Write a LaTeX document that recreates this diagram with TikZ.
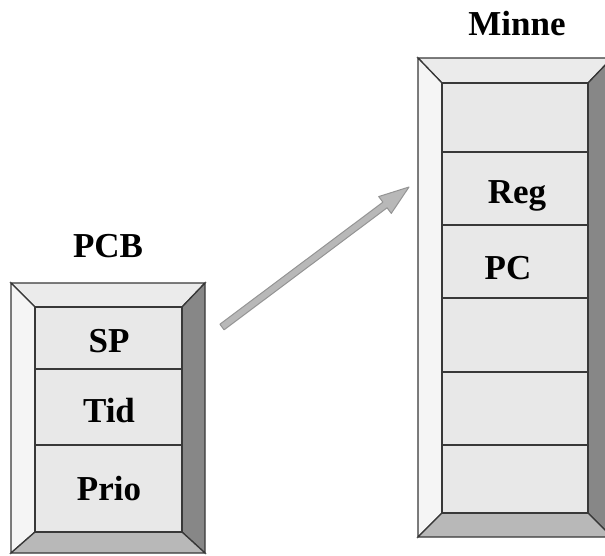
\documentclass[tikz,border=0pt]{standalone}
\usepackage{fontspec}
\setmainfont{Liberation Serif}
\usetikzlibrary{calc}
% Beveled frame: outer x1 y1 x2 y2, then inner x1 y1 x2 y2
\newcommand{\drawbevelframe}[8]{%
  \path[bevtop]   (#1,#2) -- (#3,#2) -- (#7,#6) -- (#5,#6) -- cycle;
  \path[bevleft]  (#1,#2) -- (#5,#6) -- (#5,#8) -- (#1,#4) -- cycle;
  \path[bevright] (#3,#2) -- (#3,#4) -- (#7,#8) -- (#7,#6) -- cycle;
  \path[bevbot]   (#1,#4) -- (#5,#8) -- (#7,#8) -- (#3,#4) -- cycle;
  \path[cell]     (#5,#6) rectangle (#7,#8);
}
\begin{document}
\begin{tikzpicture}[x=1pt,y=-1pt,
  edge/.style={draw=black!78, line width=1.3pt, line join=miter},
  bevtop/.style={edge, fill=black!8},
  bevleft/.style={edge, fill=black!4},
  bevright/.style={edge, fill=black!47},
  bevbot/.style={edge, fill=black!28},
  cell/.style={edge, fill=black!9},
  lbl/.style={anchor=base, inner sep=0pt, font=\bfseries\fontsize{35}{40}\selectfont},
  arrowbody/.style={draw=black!42, fill=black!28, line width=1pt, line join=round}
]
\useasboundingbox (0,0) rectangle (605,555);

% PCB frame with three fields
\drawbevelframe{11}{283}{205}{553}{35}{307}{182}{532}
\foreach \yy in {369,445} \draw[edge] (35,\yy) -- (182,\yy);

% Memory frame with six fields
\drawbevelframe{418}{58}{612}{537}{442}{83}{588}{513}
\foreach \yy in {152,225,298,372,445} \draw[edge] (442,\yy) -- (588,\yy);

% Titles and field labels
\node[lbl] (pcbtitle)   at (108,257) {PCB};
\node[lbl] (minnetitle) at (517,35)  {Minne};
\node[lbl] (sp)   at (109,352) {SP};
\node[lbl] (tid)  at (109,422) {Tid};
\node[lbl] (prio) at (109,500) {Prio};
\node[lbl] (reg)  at (517,203) {Reg};
\node[lbl] (pc)   at (508,279) {PC};

% Block arrow from the PCB to memory
\coordinate (as) at (222,327);
\coordinate (ae) at (409,187);
\coordinate (hb) at ($(ae)!30pt!(as)$);
\path[arrowbody]
  ($(as)!3.5pt!90:(ae)$) -- ($(hb)!3.5pt!-90:(as)$) -- ($(hb)!10.5pt!-90:(as)$)
  -- (ae) -- ($(hb)!10.5pt!90:(as)$) -- ($(hb)!3.5pt!90:(as)$)
  -- ($(as)!3.5pt!-90:(ae)$) -- cycle;
\end{tikzpicture}
\end{document}
